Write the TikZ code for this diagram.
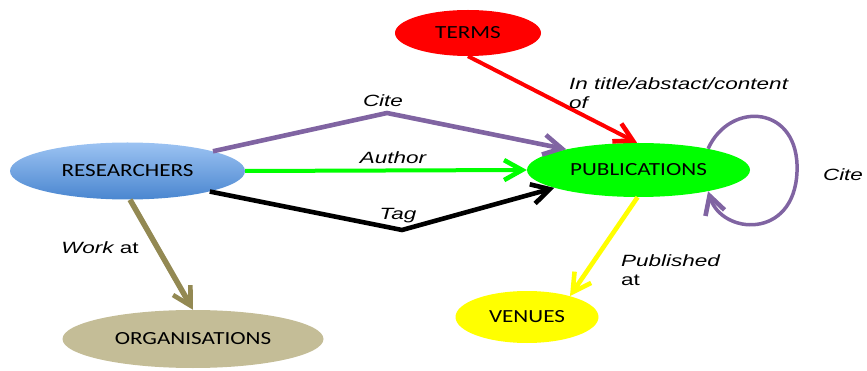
\documentclass[tikz,border=0pt]{standalone}
\usepackage{fontspec}
\usepackage{graphicx}
\setmainfont{Liberation Sans}
\newfontfamily\nodefont{Carlito}
\usetikzlibrary{shapes.geometric,arrows.meta}
\definecolor{cpurple}{HTML}{8064A2}
\definecolor{cgreen}{HTML}{00FF00}
\definecolor{cred}{HTML}{FF0000}
\definecolor{cyellow}{HTML}{FFFF00}
\definecolor{ckhaki}{HTML}{938953}
\definecolor{corg}{HTML}{C4BD97}
\definecolor{cbluetop}{HTML}{9CC3F2}
\definecolor{cbluebot}{HTML}{4A86D0}
\newcommand{\nstretch}[1]{\scalebox{1.25}[1]{#1}}
\newcommand{\lstretch}[1]{\scalebox{1.38}[1]{#1}}
\tikzset{
  entity/.style={ellipse, inner sep=0pt, draw=none,
    font=\nodefont\fontsize{18.5}{22}\selectfont},
  rel/.style={line width=4.6pt, line join=miter,
    -{Straight Barb[length=18pt,width=20pt,line width=4.6pt]}},
  lbl/.style={font=\itshape\fontsize{16.3}{19.5}\selectfont, inner sep=0pt}
}
\begin{document}
\begin{tikzpicture}[x=1pt,y=-1pt]
\useasboundingbox (0,0) rectangle (867,371);
% nodes
\node[entity, fill=cred, minimum width=146pt, minimum height=46pt] (terms) at (468,33) {\nstretch{TERMS}};
\node[entity, top color=cbluetop, bottom color=cbluebot, minimum width=235pt, minimum height=57pt] (res) at (127.5,171) {\nstretch{RESEARCHERS}};
\node[entity, fill=cgreen, minimum width=223pt, minimum height=54pt] (pub) at (638.5,170) {\nstretch{PUBLICATIONS}};
\node[entity, fill=corg, minimum width=261pt, minimum height=58pt] (org) at (193,339) {\nstretch{ORGANISATIONS}};
\node[entity, fill=cyellow, minimum width=143pt, minimum height=52pt] (ven) at (527,317) {\nstretch{VENUES}};
% bend points
\coordinate (citebend) at (387,113);
\coordinate (tagbend) at (402,230);
\coordinate (loopR) at (797,172);
% connectors
\draw[rel, color=cpurple] (res.13) -- (citebend) -- (pub.164);
\draw[rel, color=cgreen, line width=4pt] (res.east) -- (pub.west);
\draw[rel, color=black] (res.-14) -- (tagbend) -- (pub.192);
\draw[rel, color=cred, line width=4pt] (terms.south) -- (pub.93);
\draw[rel, color=cyellow] (pub.-92) -- (ven.26);
\draw[rel, color=ckhaki, line width=5.5pt] (res.-85) -- (org.north);
\draw[rel, color=cpurple, line width=3.5pt] (pub.17) .. controls (730,100) and (800,105) .. (loopR) .. controls (794,240) and (722,235) .. (pub.-17);
% labels
\node[lbl] (lcite) at (383,101) {\lstretch{Cite}};
\node[lbl] (lauthor) at (393,158) {\lstretch{Author}};
\node[lbl] (ltag) at (398,216) {\lstretch{Tag}};
\node[lbl, anchor=north west, align=left] (lterms) at (569,77) {\lstretch{In title/abstact/content}\\\lstretch{of}};
\node[lbl] (lloop) at (843,175) {\lstretch{Cite}};
\node[lbl, anchor=north west, align=left] (lpub) at (621,254) {\lstretch{Published}\\\lstretch{\upshape at}};
\node[lbl] (lwork) at (100,248) {\lstretch{Work \upshape at}};
\end{tikzpicture}
\end{document}
